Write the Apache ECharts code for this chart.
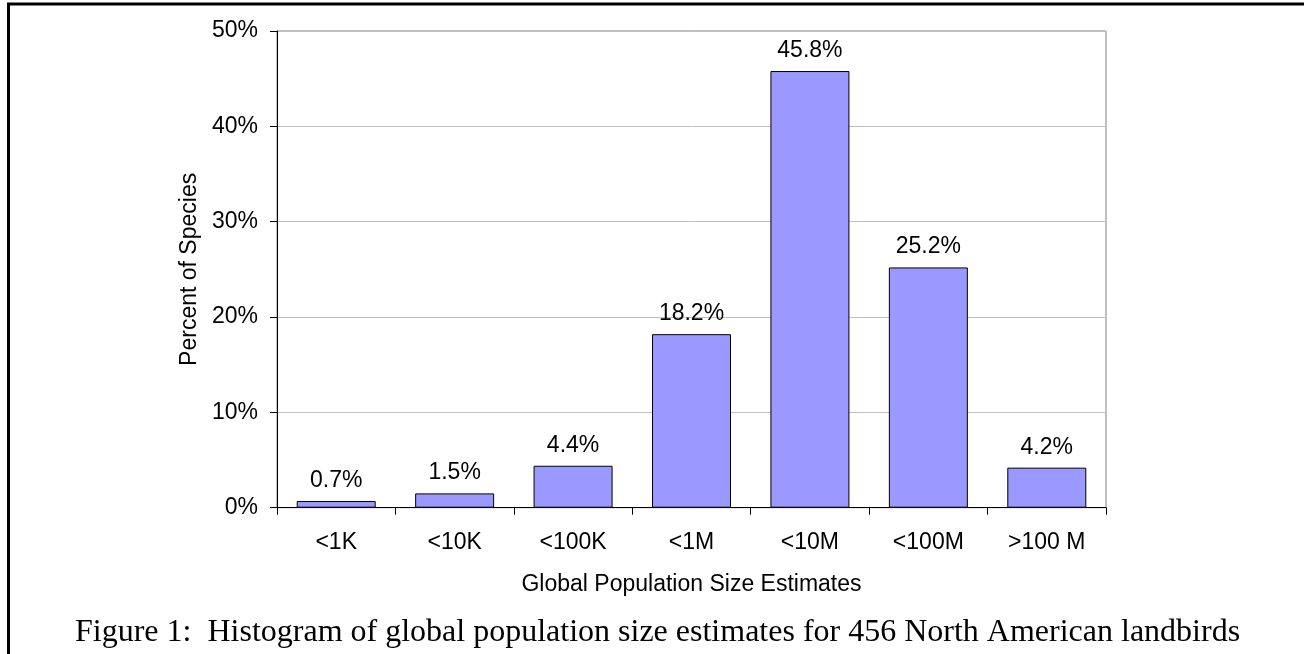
<!DOCTYPE html>
<html>
<head>
<meta charset="utf-8">
<script src="https://cdn.jsdelivr.net/npm/echarts@6/dist/echarts.min.js"></script>
<style>
html,body{margin:0;padding:0;background:#fff;}
#chart{width:1304px;height:654px;}
</style>
</head>
<body>
<div id="chart"></div>
<script>
const categories = ['<1K', '<10K', '<100K', '<1M', '<10M', '<100M', '>100 M'];
const percentValues = [0.7, 1.5, 4.4, 18.2, 45.8, 25.2, 4.2];
const yTicks = { min: 0, max: 50, interval: 10 };
const xAxisTitle = 'Global Population Size Estimates';
const yAxisTitle = 'Percent of Species';
const caption = 'Figure 1:  Histogram of global population size estimates for 456 North American landbirds';

const sans = '"Liberation Sans", Arial, sans-serif';
const serif = '"Liberation Serif", "Times New Roman", serif';

const chart = echarts.init(document.getElementById('chart'), null, { renderer: 'canvas' });
chart.setOption({
  backgroundColor: '#ffffff',
  animation: false,
  title: {
    text: caption,
    left: 75,
    top: 617,
    padding: 0,
    textStyle: { fontFamily: serif, fontSize: 32, fontWeight: 'normal', color: '#000' }
  },
  graphic: [{
    type: 'polyline',
    shape: { points: [[8.5, 654], [8.5, 4], [1304, 4]] },
    style: { stroke: '#000', lineWidth: 3, fill: null },
    silent: true
  }],
  grid: {
    left: 277, right: 198, top: 31, bottom: 146.3,
    show: true, borderColor: '#808080', borderWidth: 1, backgroundColor: 'transparent'
  },
  xAxis: {
    type: 'category',
    data: categories,
    name: xAxisTitle,
    nameLocation: 'middle',
    nameGap: 65,
    nameTextStyle: { fontFamily: sans, fontSize: 23, color: '#000' },
    axisLine: { show: true, lineStyle: { color: '#000', width: 1 } },
    axisTick: { show: true, length: 7, lineStyle: { color: '#000' } },
    axisLabel: { fontFamily: sans, fontSize: 23, color: '#000', margin: 23 },
    splitLine: { show: false }
  },
  yAxis: {
    type: 'value',
    min: yTicks.min, max: yTicks.max, interval: yTicks.interval,
    name: yAxisTitle,
    nameLocation: 'middle',
    nameGap: 76,
    nameTextStyle: { fontFamily: sans, fontSize: 23, color: '#000' },
    axisLine: { show: true, lineStyle: { color: '#000', width: 1 } },
    axisTick: { show: true, length: 7, inside: false, lineStyle: { color: '#000' } },
    axisLabel: { fontFamily: sans, fontSize: 23, color: '#000', margin: 19, formatter: '{value}%' },
    splitLine: { show: true, lineStyle: { color: '#c0c0c0', width: 1 } }
  },
  series: [{
    type: 'bar',
    data: percentValues,
    barCategoryGap: '33.3%',
    itemStyle: { color: '#9999ff', borderColor: '#000', borderWidth: 1 },
    label: {
      show: true, position: 'top', distance: 9,
      fontFamily: sans, fontSize: 23, color: '#000',
      formatter: '{c}%'
    }
  }]
});
</script>
</body>
</html>
